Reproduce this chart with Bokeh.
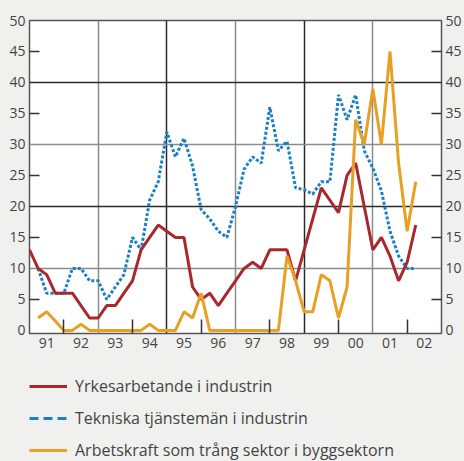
from bokeh.plotting import figure
from bokeh.layouts import column
from bokeh.models import LinearAxis, FixedTicker, Grid, Legend, LegendItem, Range1d
from bokeh.embed import file_html
from bokeh.resources import INLINE

nan = float("nan")

years = list(range(1991, 2003))
year_labels = ["91", "92", "93", "94", "95", "96", "97", "98", "99", "00", "01", "02"]
y_ticks = list(range(0, 51, 5))

labels = [
    "Yrkesarbetande i industrin",
    "Tekniska tjänstemän i industrin",
    "Arbetskraft som trång sektor i byggsektorn",
]

# quarterly observations 1991 Q1 .. 2002 Q2
yrkes = [13, 10, 9, 6, 6, 6, 4, 2, 2, 4, 4, 6,
         8, 13, 15, 17, 16, 15, 15, 7, 5, 6, 4, 6,
         8, 10, 11, 10, 13, 13, 13, 8, 13, 18, 23, 21,
         19, 25, 27, 20, 13, 15, 12, 8, 11, 17]
tekniska = [nan, 10, 6, 6, 6, 10, 10, 8, 8, 5, 7, 9,
            15, 13, 21, 24, 32, 28, 31, 26.5, 19.5, 18, 16, 15,
            20, 26, 28, 27, 36, 29, 30.5, 23, 22.7, 22, 24, 24,
            38, 34, 38, 29, 26.2, 22.5, 16, 12, 10, 10]
bygg = [nan, 2, 3, 1.5, 0, 0, 1, 0, 0, 0, 0, 0,
        0, 0, 1, 0, 0, 0, 3, 2, 6, 0, 0, 0,
        0, 0, 0, 0, 0, 0, 12, 8, 3, 3, 9, 8,
        2, 7, 34, 30, 39, 30, 45, 27, 16, 24]

quarters = [y + q / 4 for y in years for q in range(4)][:len(yrkes)]

RED = "#a8282e"
BLUE = "#1b7fc6"
ORANGE = "#e8a024"
BG = "#f0f1ef"
TXT = "#444444"
FONT = "Open Sans"

p = figure(width=464, height=375, output_backend="svg", toolbar_location=None,
           x_range=Range1d(years[0], years[-1] + 1), y_range=Range1d(-0.5, 50),
           min_border_left=29, min_border_right=19, min_border_top=20,
           min_border_bottom=42, background_fill_color="white",
           border_fill_color=BG, outline_line_color="#555555", outline_line_width=1.5)
p.grid.visible = False

# grids
odd_years = [y for y in years if y % 2 == 1 and y > years[0]]
p.add_layout(Grid(dimension=0, ticker=FixedTicker(ticks=[y for y in odd_years if y % 4 != 3]),
                  grid_line_color="#8c8c8c", grid_line_width=1.5))
p.add_layout(Grid(dimension=0, ticker=FixedTicker(ticks=[y for y in odd_years if y % 4 == 3]),
                  grid_line_color="#2a2a2a", grid_line_width=1.5))
p.add_layout(Grid(dimension=1, ticker=FixedTicker(ticks=[10, 30]),
                  grid_line_color="#8c8c8c", grid_line_width=1.5))
p.add_layout(Grid(dimension=1, ticker=FixedTicker(ticks=[20, 40]),
                  grid_line_color="#2a2a2a", grid_line_width=1.5))

# x axis
xa = p.xaxis[0]
xa.ticker = FixedTicker(ticks=[y + 0.5 for y in years],
                        minor_ticks=[y for y in years if y % 2 == 0])
xa.major_label_overrides = {y + 0.5: lab for y, lab in zip(years, year_labels)}
xa.major_tick_in = 0
xa.major_tick_out = 0
xa.minor_tick_in = 14
xa.minor_tick_out = 0
xa.minor_tick_line_color = "#333333"
xa.minor_tick_line_width = 1.5
xa.axis_line_color = None
xa.major_label_standoff = 4
xa.major_label_text_font = FONT
xa.major_label_text_font_size = "14px"
xa.major_label_text_color = TXT


def style_y(ax):
    ax.ticker = FixedTicker(ticks=y_ticks, minor_ticks=[t for t in y_ticks if t % 10 == 5])
    ax.major_tick_in = 0
    ax.major_tick_out = 0
    ax.minor_tick_in = 10
    ax.minor_tick_out = 0
    ax.minor_tick_line_color = "#333333"
    ax.minor_tick_line_width = 1.5
    ax.axis_line_color = None
    ax.major_label_standoff = 4
    ax.major_label_text_font = FONT
    ax.major_label_text_font_size = "14px"
    ax.major_label_text_color = TXT


style_y(p.yaxis[0])
ra = LinearAxis()
style_y(ra)
p.add_layout(ra, "right")

# series
p.line(quarters, tekniska, color=BLUE, line_width=3, line_dash="3 2")
p.line(quarters, yrkes, color=RED, line_width=3)
p.line(quarters, bygg, color=ORANGE, line_width=3)

# legend panel below the chart
lg = figure(width=464, height=86, output_backend="svg", toolbar_location=None,
            x_axis_type=None, y_axis_type=None,
            min_border_left=28, min_border_right=0, min_border_top=0, min_border_bottom=0,
            background_fill_color=BG, border_fill_color=BG, outline_line_color=None)
lg.grid.visible = False
k_red = lg.line(quarters, yrkes, color=RED, line_width=3, visible=False)
k_blue = lg.line(quarters, tekniska, color=BLUE, line_width=3, line_dash="9 5", visible=False)
k_org = lg.line(quarters, bygg, color=ORANGE, line_width=3, visible=False)

legend = Legend(items=[LegendItem(label=labels[0], renderers=[k_red]),
                       LegendItem(label=labels[1], renderers=[k_blue]),
                       LegendItem(label=labels[2], renderers=[k_org])],
                location="top_left", orientation="vertical",
                glyph_width=38, glyph_height=22, label_height=22, label_standoff=8,
                spacing=10, margin=0, padding=0,
                background_fill_alpha=0, border_line_color=None,
                inactive_fill_alpha=0,
                label_text_font=FONT, label_text_font_size="16px", label_text_color=TXT)
lg.add_layout(legend, "center")

layout = column(p, lg, spacing=0)
html = file_html(layout, INLINE)
html = html.replace("</head>", "<style>body{background:%s;}</style></head>" % BG, 1)
open("out.html", "w").write(html)
